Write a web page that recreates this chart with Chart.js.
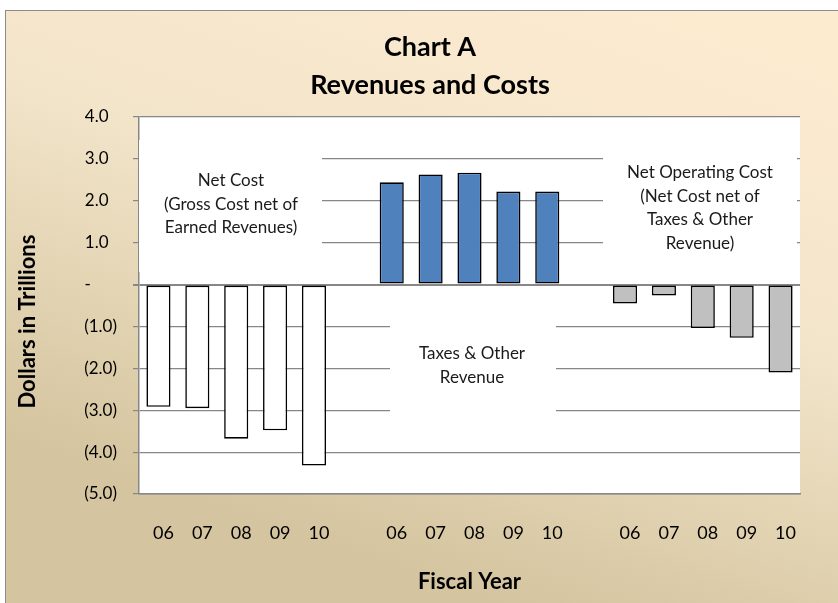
<!DOCTYPE html>
<html>
<head>
<meta charset="utf-8">
<script src="https://cdn.jsdelivr.net/npm/chart.js@4/dist/chart.umd.min.js"></script>
<style>
  html, body { margin: 0; padding: 0; background: #fff; }
  #wrap { width: 838px; height: 603px; }
</style>
</head>
<body>
<div id="wrap"><canvas id="chartA" width="838" height="603"></canvas></div>
<script>
const years = ['06', '07', '08', '09', '10'];
const netCost = [-2.92, -2.95, -3.68, -3.48, -4.32];
const taxesRevenue = [2.44, 2.63, 2.67, 2.22, 2.22];
const netOperatingCost = [-0.45, -0.26, -1.04, -1.27, -2.1];
const yTicks = [4, 3, 2, 1, 0, -1, -2, -3, -4, -5];
const titleLines = ['Chart A', 'Revenues and Costs'];

const FONT = "Lato, 'Open Sans', sans-serif";
const GRID = '#878787';

// one category slot between each group
const labels = [...years, '', ...years, '', ...years];
const values = [...netCost, null, ...taxesRevenue, null, ...netOperatingCost];
const colors = [
  ...netCost.map(() => '#ffffff'), null,
  ...taxesRevenue.map(() => '#4f81bd'), null,
  ...netOperatingCost.map(() => '#c0c0c0')
];

function formatTick(v) {
  if (v === 0) return '-      ';
  if (v < 0) return '(' + Math.abs(v).toFixed(1) + ')';
  return v.toFixed(1) + '\u2002';
}

// outer frame with beige gradient, plus the two line title
const frame = {
  id: 'frame',
  beforeDraw(chart) {
    const ctx = chart.ctx;
    ctx.save();
    ctx.fillStyle = '#ffffff';
    ctx.fillRect(0, 0, chart.width, chart.height);
    const g = ctx.createLinearGradient(700, 10, 500, 603);
    g.addColorStop(0, '#fdebd0');
    g.addColorStop(0.45, '#f3e5ca');
    g.addColorStop(1, '#d4c49f');
    ctx.fillStyle = g;
    ctx.fillRect(5.5, 10.5, chart.width, chart.height);
    ctx.strokeStyle = '#8c8c8c';
    ctx.lineWidth = 1;
    ctx.strokeRect(5.5, 10.5, chart.width + 10, chart.height + 10);
    const a = chart.chartArea;
    ctx.fillStyle = '#ffffff';
    ctx.fillRect(a.left, a.top, a.right - a.left, a.bottom - a.top);

    ctx.fillStyle = '#000000';
    ctx.font = 'bold 27px ' + FONT;
    ctx.textAlign = 'center';
    ctx.textBaseline = 'middle';
    titleLines.forEach((t, i) => ctx.fillText(t, 430, 47 + i * 38));
    ctx.restore();
  }
};

// text boxes sitting on the plot (hide the gridlines behind them)
const notes = [
  { box: [139, 140, 322, 272], lines: ['Net Cost', '(Gross Cost net of', 'Earned Revenues)'], cx: 231, y0: 181 },
  { box: [390, 300, 556, 432], lines: ['Taxes & Other', 'Revenue'], cx: 472, y0: 354 },
  { box: [603, 145, 797, 281], lines: ['Net Operating Cost', '(Net Cost net of', 'Taxes & Other', 'Revenue)'], cx: 700, y0: 173 }
];
const noteBoxes = {
  id: 'noteBoxes',
  beforeDatasetsDraw(chart) {
    const ctx = chart.ctx;
    ctx.save();
    ctx.font = '17px ' + FONT;
    ctx.textAlign = 'center';
    ctx.textBaseline = 'middle';
    notes.forEach(n => {
      const [x1, y1, x2, y2] = n.box;
      ctx.fillStyle = '#ffffff';
      ctx.fillRect(x1, y1, x2 - x1, y2 - y1);
      ctx.fillStyle = '#1a1a1a';
      n.lines.forEach((t, i) => ctx.fillText(t, n.cx, n.y0 + i * 23.5));
    });
    ctx.restore();
  }
};

new Chart(document.getElementById('chartA'), {
  type: 'bar',
  data: {
    labels: labels,
    datasets: [{
      data: values,
      backgroundColor: colors,
      borderColor: '#000000',
      borderWidth: 1.6,
      borderSkipped: false,
      barPercentage: 0.62,
      categoryPercentage: 1
    }]
  },
  options: {
    responsive: false,
    animation: false,
    layout: { padding: { left: 0, right: 38, top: 117, bottom: 0 } },
    plugins: {
      legend: { display: false },
      tooltip: { enabled: false },
      title: { display: false }
    },
    scales: {
      x: {
        grid: { display: false },
        border: { display: true, color: GRID, width: 1.5 },
        ticks: {
          color: '#000000',
          font: { family: FONT, size: 18 },
          padding: 20,
          labelOffset: 5,
          autoSkip: false,
          maxRotation: 0
        },
        title: {
          display: true,
          text: 'Fiscal Year',
          color: '#000000',
          font: { family: FONT, size: 22, weight: 'bold' },
          padding: { top: 0, bottom: 8 }
        },
        afterFit: s => { s.height = 109; }
      },
      y: {
        min: -5,
        max: 4,
        afterBuildTicks: s => { s.ticks = yTicks.map(v => ({ value: v })); },
        grid: {
          color: GRID,
          lineWidth: c => (c.tick && c.tick.value === 0 ? 2 : 1.2),
          drawTicks: true,
          tickLength: 6
        },
        border: { display: true, color: GRID, width: 1.5 },
        ticks: {
          color: '#000000',
          font: { family: FONT, size: 17 },
          padding: 16,
          callback: v => formatTick(v)
        },
        title: {
          display: true,
          text: 'Dollars in Trillions      ',
          color: '#000000',
          font: { family: FONT, size: 22, weight: 'bold' },
          padding: { top: 15, bottom: 0 }
        },
        afterFit: s => { s.width = 139; }
      }
    }
  },
  plugins: [frame, noteBoxes]
});
</script>
</body>
</html>
